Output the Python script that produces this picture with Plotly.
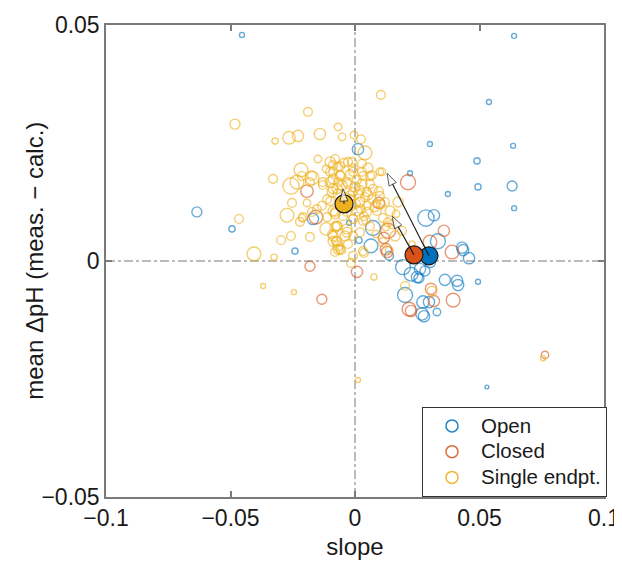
import plotly.graph_objects as go

# ---------------- data ----------------
open_x = [-0.0454, -0.0635, -0.0494, -0.0169, -0.0241, 0.0012, 0.0639, 0.0538, 0.0301, 0.0635,
          0.0490, 0.0221, 0.0494, 0.0631, 0.0373, 0.0639, 0.0285, 0.0317, 0.0333, 0.0430,
          0.0458, 0.0072, 0.0064, -0.0024, 0.0016, 0.0137, 0.0201, 0.0193, 0.0225, 0.0261,
          0.0257, 0.0281, 0.0361, 0.0410, 0.0414, 0.0494, 0.0273, 0.0297, 0.0269, 0.0277,
          0.0329, 0.0530, 0.0434, 0.0249, 0.0301]
open_y = [0.0479, 0.0104, 0.0068, 0.0089, 0.0021, 0.0237, 0.0477, 0.0337, 0.0248, 0.0244,
          0.0212, 0.0186, 0.0157, 0.0159, 0.0142, 0.0112, 0.0091, 0.0097, 0.0042, 0.0028,
          0.0006, 0.0070, 0.0032, 0.0081, 0.0044, 0.0011, -0.0072, -0.0013, -0.0028, -0.0017,
          -0.0036, -0.0021, -0.0040, -0.0042, -0.0051, -0.0044, -0.0087, -0.0087, -0.0112, -0.0117,
          -0.0108, -0.0267, 0.0023, -0.0034, -0.0002]
open_s = [4, 8, 5, 9, 5, 9, 4, 4, 4, 4,
          5, 4, 5, 8, 4, 4, 13, 9, 12, 9,
          9, 12, 11, 4, 5, 7, 12, 12, 11, 9,
          8, 8, 9, 9, 9, 4, 10, 9, 10, 9,
          6, 3, 9, 9, 9]

closed_x = [-0.0193, -0.0157, -0.0181, 0.0008, -0.0133, 0.0213, 0.0096, 0.0133, 0.0116, 0.0124,
            0.0357, 0.0301, 0.0390, 0.0305, 0.0317, 0.0394, 0.0217, 0.0225, 0.0763, 0.0129]
closed_y = [0.0148, 0.0093, -0.0011, -0.0023, -0.0081, 0.0167, 0.0123, 0.0064, 0.0049, 0.0025,
            0.0064, 0.0040, 0.0019, -0.0059, -0.0085, -0.0083, -0.0102, -0.0106, -0.0199, 0.0019]
closed_s = [10, 11, 8, 9, 8, 12, 9, 12, 9, 9,
            9, 11, 11, 9, 9, 11, 11, 9, 6, 9]

single_x = [-0.0189, -0.0482, -0.0068, -0.0321, -0.0265, -0.0229, -0.0141, -0.0052, -0.0004, 0.0024,
            -0.0217, -0.0329, -0.0257, -0.0233, -0.0173, -0.0129, -0.0466, -0.0253, -0.0273, -0.0193,
            -0.0213, -0.0116, -0.0181, -0.0257, -0.0297, -0.0406, -0.0325, -0.0076, -0.0068, -0.0056,
            -0.0016, -0.0369, -0.0245, 0.0012, 0.0755, 0.0076, 0.0036, 0.0104, 0.0201, 0.0309,
            0.0229, 0.0137,
            0.0040, -0.0080, -0.0044, -0.0012, 0.0028, 0.0052, -0.0088, -0.0068, -0.0008, 0.0108,
            0.0068, 0.0032, -0.0060,
            -0.0088, -0.0060, -0.0020, 0.0028, 0.0060, 0.0100, -0.0088, -0.0068, -0.0028, 0.0000,
            0.0028, 0.0048, 0.0072, 0.0100, 0.0120, 0.0173, 0.0020, 0.0048, 0.0008, 0.0048,
            0.0088, 0.0141, -0.0080, -0.0048, -0.0008, 0.0032, -0.0072, -0.0032, 0.0020, -0.0040,
            -0.0072, -0.0060, -0.0008, 0.0032, 0.0112, 0.0161, 0.0189, -0.0080, -0.0028,
            -0.0100, -0.0088, -0.0060, -0.0028, -0.0008, -0.0100, -0.0072, -0.0032, -0.0008, -0.0100,
            -0.0088, -0.0032, -0.0008, -0.0072, -0.0032, -0.0008, -0.0088,
            -0.0100, -0.0068, -0.0092, -0.0112, -0.0133, -0.0153, -0.0173, -0.0209, -0.0181, -0.0213,
            -0.0173, -0.0129, -0.0080, -0.0112, -0.0080, -0.0088, -0.0068, -0.0092, -0.0221,
            0.0012, 0.0040, 0.0068, 0.0084, 0.0112, 0.0060, 0.0084, 0.0004, -0.0020, 0.0149,
            0.0165, 0.0124, -0.0149, -0.0116,
            0.0052, 0.0020, -0.0040, 0.0080, 0.0096, 0.0036, -0.0012, 0.0060, 0.0024, -0.0052,
            0.0104, 0.0132, 0.0008, -0.0020, 0.0044]
single_y = [0.0316, 0.0290, 0.0284, 0.0254, 0.0261, 0.0265, 0.0269, 0.0263, 0.0267, 0.0258,
            0.0193, 0.0174, 0.0159, 0.0167, 0.0176, 0.0161, 0.0089, 0.0123, 0.0097, 0.0123,
            0.0091, 0.0068, 0.0051, 0.0053, 0.0044, 0.0015, 0.0008, 0.0042, 0.0032, 0.0023,
            -0.0004, -0.0053, -0.0066, -0.0252, -0.0206, -0.0034, 0.0017, 0.0352, -0.0053, -0.0064,
            0.0036, 0.0023,
            0.0229, 0.0216, 0.0208, 0.0210, 0.0206, 0.0197, 0.0203, 0.0199, 0.0197, 0.0189,
            0.0182, 0.0180, 0.0182,
            0.0174, 0.0180, 0.0184, 0.0189, 0.0180, 0.0189, 0.0153, 0.0142, 0.0163, 0.0157,
            0.0163, 0.0146, 0.0153, 0.0138, 0.0125, 0.0125, 0.0125, 0.0117, 0.0106, 0.0104,
            0.0106, 0.0106, 0.0100, 0.0095, 0.0089, 0.0085, 0.0074, 0.0068, 0.0061, 0.0053,
            0.0042, 0.0025, 0.0011, 0.0021, 0.0040, 0.0053, 0.0064, 0.0019, 0.0036,
            0.0210, 0.0189, 0.0201, 0.0210, 0.0189, 0.0167, 0.0153, 0.0167, 0.0146, 0.0127,
            0.0106, 0.0104, 0.0089, 0.0074, 0.0061, 0.0053, 0.0053,
            0.0189, 0.0167, 0.0146, 0.0131, 0.0117, 0.0110, 0.0104, 0.0093, 0.0167, 0.0180,
            0.0180, 0.0167, 0.0104, 0.0093, 0.0072, 0.0042, 0.0025, 0.0057, 0.0083,
            0.0142, 0.0135, 0.0131, 0.0121, 0.0091, 0.0074, 0.0057, 0.0121, 0.0131, 0.0078,
            0.0100, 0.0072, 0.0216, 0.0195,
            0.0140, 0.0150, 0.0135, 0.0115, 0.0148, 0.0095, 0.0118, 0.0163, 0.0110, 0.0160,
            0.0120, 0.0082, 0.0172, 0.0138, 0.0087]
single_s = [7, 8, 6, 5, 10, 9, 9, 6, 6, 7,
            11, 7, 13, 11, 11, 7, 7, 7, 11, 6,
            6, 10, 7, 7, 7, 11, 5, 7, 8, 7,
            7, 4, 4, 4, 4, 5, 7, 7, 7, 8,
            5, 6,
            11, 7, 7, 7, 7, 8, 7, 7, 7, 6,
            7, 7, 7,
            8, 8, 7, 7, 7, 6, 8, 8, 7, 8,
            8, 7, 7, 7, 7, 8, 8, 7, 8, 7,
            7, 8, 8, 7, 7, 7, 8, 8, 7, 8,
            8, 7, 7, 7, 7, 8, 7, 7, 7,
            8, 7, 7, 7, 7, 8, 8, 7, 7, 7,
            8, 7, 7, 7, 8, 7, 8,
            7, 7, 8, 7, 7, 7, 7, 7, 7, 7,
            7, 7, 7, 7, 8, 8, 8, 7, 7,
            7, 7, 7, 6, 7, 7, 6, 7, 7, 7,
            6, 6, 6, 6,
            8, 7, 7, 8, 7, 7, 8, 7, 7, 8,
            7, 7, 7, 8, 7]

series_names = ["Open", "Closed", "Single endpt."]
mean_x = [0.0297, 0.0237, -0.0044]
mean_y = [0.0011, 0.0013, 0.0121]
arrow_end_x = [0.0129, 0.0149, -0.0048]
arrow_end_y = [0.0186, 0.0095, 0.0153]

x_ticks = [-0.1, -0.05, 0, 0.05, 0.1]
y_ticks = [-0.05, 0, 0.05]
x_title = "slope"
y_title = "mean \u0394pH (meas. \u2212 calc.)"

# ---------------- styling ----------------
colors = ["#0072BD", "#D95319", "#EDB120"]
open_cols = ["rgba(0,114,189,0.85)", "rgba(217,83,25,0.85)", "rgba(237,177,32,0.9)"]
FONT = "Liberation Sans, Arial, sans-serif"
AX = "#7a7a7a"
SIZE_SCALE = 1.25

fig = go.Figure()

groups = [(open_x, open_y, open_s), (closed_x, closed_y, closed_s), (single_x, single_y, single_s)]
for (gx, gy, gs), c in zip(groups, open_cols):
    fig.add_trace(go.Scatter(
        x=gx, y=gy, mode="markers", showlegend=False, hoverinfo="skip",
        marker=dict(symbol="circle-open", size=[s * SIZE_SCALE for s in gs], color=c,
                    line=dict(width=1.4, color=c)),
    ))

# means (filled)
for i in range(3):
    fig.add_trace(go.Scatter(
        x=[mean_x[i]], y=[mean_y[i]], mode="markers", showlegend=False, hoverinfo="skip",
        marker=dict(symbol="circle", size=18, color=colors[i], line=dict(width=1.2, color="#1a1a1a")),
    ))

# arrows
for i in range(3):
    fig.add_trace(go.Scatter(
        x=[mean_x[i], arrow_end_x[i]], y=[mean_y[i], arrow_end_y[i]],
        mode="lines+markers", showlegend=False, hoverinfo="skip",
        line=dict(color="#1a1a1a", width=1.1),
        marker=dict(symbol="arrow", size=[0, 13], angleref="previous", color="white",
                    line=dict(width=1, color="#1a1a1a")),
    ))

# legend entries (text drawn a bit larger than the row height font)
for name, c in zip(series_names, open_cols):
    fig.add_trace(go.Scatter(
        x=[None], y=[None], mode="markers",
        name="<span style='font-size:20.5px'>" + name + "</span>",
        marker=dict(symbol="circle-open", size=12, color=c, line=dict(width=1.5, color=c)),
    ))

# dash-dot reference lines
fig.add_shape(type="line", xref="x", yref="paper", x0=0, x1=0, y0=0, y1=1,
              line=dict(color="#777777", width=1, dash="dashdot"), layer="below")
fig.add_shape(type="line", xref="paper", yref="y", x0=0, x1=1, y0=0, y1=0,
              line=dict(color="#777777", width=1, dash="dashdot"), layer="below")

# y-axis title placed as a rotated annotation for precise placement
fig.add_annotation(text=y_title, xref="paper", yref="paper", x=-0.145, y=0.5,
                   xanchor="center", yanchor="middle", textangle=-90, showarrow=False,
                   font=dict(family=FONT, size=24, color="#1a1a1a"))

axis_common = dict(showline=True, linecolor=AX, linewidth=1.5, mirror="ticks",
                   ticks="inside", ticklen=6, tickcolor=AX, tickwidth=1.5,
                   showgrid=False, zeroline=False, automargin=False,
                   tickfont=dict(family=FONT, size=23, color="#1a1a1a"))

# the page body has an 8 px default margin, so the figure is drawn 8 px in from the top-left
fig.update_layout(
    width=614, height=559,
    margin=dict(l=98, r=18, t=17, b=70),
    paper_bgcolor="white", plot_bgcolor="white",
    font=dict(family=FONT, color="#1a1a1a"),
    xaxis=dict(range=[-0.1, 0.1], tickvals=x_ticks, ticktext=["\u22120.1", "\u22120.05", "0", "0.05", "0.1"],
               title=dict(text=x_title, font=dict(family=FONT, size=24), standoff=8), **axis_common),
    yaxis=dict(range=[-0.05, 0.05], tickvals=y_ticks, ticktext=["\u22120.05", "0", "0.05"],
               **axis_common),
    legend=dict(x=1.006, y=0, xanchor="right", yanchor="bottom",
                bgcolor="white", bordercolor="#333333", borderwidth=1,
                font=dict(family=FONT, size=17.5, color="#1a1a1a"),
                itemwidth=48, tracegroupgap=0),
)

fig.write_html("out.html")
